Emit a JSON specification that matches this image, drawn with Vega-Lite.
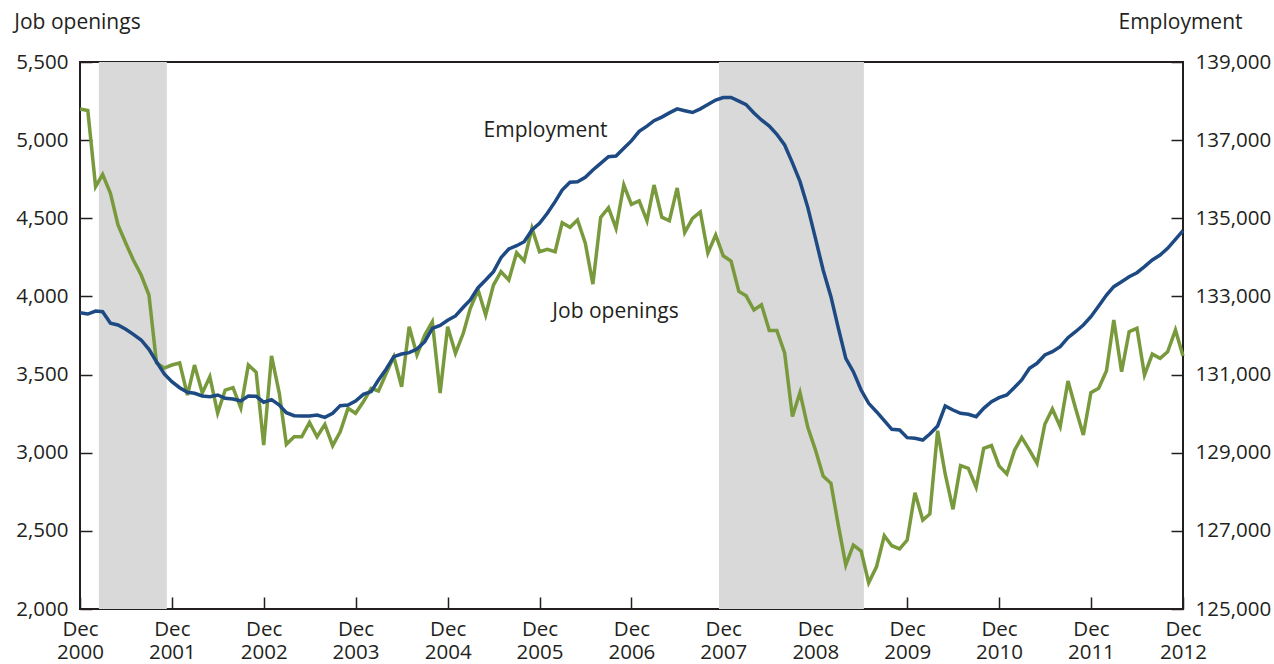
{
  "$schema": "https://vega.github.io/schema/vega-lite/v6.json",
  "width": 1103,
  "height": 547,
  "autosize": {"type": "none"},
  "padding": {"left": 80, "top": 62, "right": 91, "bottom": 55},
  "background": "white",
  "config": {
    "view": {"stroke": "#231f20", "strokeWidth": 2},
    "font": "Open Sans",
    "axis": {
      "labelFont": "Open Sans",
      "labelFontSize": 20.5,
      "labelColor": "#231f20",
      "titleFont": "Open Sans",
      "titleFontSize": 21,
      "titleFontWeight": "normal",
      "titleColor": "#231f20",
      "tickColor": "#231f20",
      "tickWidth": 1.5,
      "domain": false,
      "grid": false
    }
  },
  "datasets": {
    "series": [
      {"date":"2000-12-01","openings":5199,"employment":132584},
      {"date":"2001-01-01","openings":5190,"employment":132550},
      {"date":"2001-02-01","openings":4702,"employment":132627},
      {"date":"2001-03-01","openings":4781,"employment":132610},
      {"date":"2001-04-01","openings":4660,"employment":132312},
      {"date":"2001-05-01","openings":4457,"employment":132269},
      {"date":"2001-06-01","openings":4340,"employment":132158},
      {"date":"2001-07-01","openings":4233,"employment":132030},
      {"date":"2001-08-01","openings":4137,"employment":131885},
      {"date":"2001-09-01","openings":4009,"employment":131647},
      {"date":"2001-10-01","openings":3574,"employment":131329},
      {"date":"2001-11-01","openings":3542,"employment":131015},
      {"date":"2001-12-01","openings":3561,"employment":130818},
      {"date":"2002-01-01","openings":3574,"employment":130664},
      {"date":"2002-02-01","openings":3369,"employment":130546},
      {"date":"2002-03-01","openings":3561,"employment":130520},
      {"date":"2002-04-01","openings":3382,"employment":130451},
      {"date":"2002-05-01","openings":3486,"employment":130434},
      {"date":"2002-06-01","openings":3254,"employment":130477},
      {"date":"2002-07-01","openings":3401,"employment":130392},
      {"date":"2002-08-01","openings":3416,"employment":130375},
      {"date":"2002-09-01","openings":3286,"employment":130324},
      {"date":"2002-10-01","openings":3561,"employment":130451},
      {"date":"2002-11-01","openings":3515,"employment":130443},
      {"date":"2002-12-01","openings":3049,"employment":130293},
      {"date":"2003-01-01","openings":3620,"employment":130358},
      {"date":"2003-02-01","openings":3380,"employment":130221},
      {"date":"2003-03-01","openings":3054,"employment":130024},
      {"date":"2003-04-01","openings":3102,"employment":129947},
      {"date":"2003-05-01","openings":3102,"employment":129940},
      {"date":"2003-06-01","openings":3194,"employment":129940},
      {"date":"2003-07-01","openings":3102,"employment":129965},
      {"date":"2003-08-01","openings":3181,"employment":129906},
      {"date":"2003-09-01","openings":3045,"employment":130008},
      {"date":"2003-10-01","openings":3134,"employment":130205},
      {"date":"2003-11-01","openings":3284,"employment":130221},
      {"date":"2003-12-01","openings":3252,"employment":130324},
      {"date":"2004-01-01","openings":3326,"employment":130495},
      {"date":"2004-02-01","openings":3412,"employment":130563},
      {"date":"2004-03-01","openings":3395,"employment":130861},
      {"date":"2004-04-01","openings":3508,"employment":131143},
      {"date":"2004-05-01","openings":3614,"employment":131458},
      {"date":"2004-06-01","openings":3422,"employment":131526},
      {"date":"2004-07-01","openings":3806,"employment":131560},
      {"date":"2004-08-01","openings":3625,"employment":131655},
      {"date":"2004-09-01","openings":3753,"employment":131842},
      {"date":"2004-10-01","openings":3838,"employment":132184},
      {"date":"2004-11-01","openings":3382,"employment":132256},
      {"date":"2004-12-01","openings":3806,"employment":132390},
      {"date":"2005-01-01","openings":3636,"employment":132500},
      {"date":"2005-02-01","openings":3764,"employment":132722},
      {"date":"2005-03-01","openings":3924,"employment":132909},
      {"date":"2005-04-01","openings":4041,"employment":133224},
      {"date":"2005-05-01","openings":3881,"employment":133421},
      {"date":"2005-06-01","openings":4073,"employment":133634},
      {"date":"2005-07-01","openings":4158,"employment":133992},
      {"date":"2005-08-01","openings":4105,"employment":134214},
      {"date":"2005-09-01","openings":4280,"employment":134299},
      {"date":"2005-10-01","openings":4227,"employment":134401},
      {"date":"2005-11-01","openings":4436,"employment":134700},
      {"date":"2005-12-01","openings":4286,"employment":134872},
      {"date":"2006-01-01","openings":4301,"employment":135128},
      {"date":"2006-02-01","openings":4286,"employment":135425},
      {"date":"2006-03-01","openings":4472,"employment":135724},
      {"date":"2006-04-01","openings":4442,"employment":135921},
      {"date":"2006-05-01","openings":4489,"employment":135936},
      {"date":"2006-06-01","openings":4340,"employment":136049},
      {"date":"2006-07-01","openings":4079,"employment":136236},
      {"date":"2006-08-01","openings":4506,"employment":136407},
      {"date":"2006-09-01","openings":4568,"employment":136576},
      {"date":"2006-10-01","openings":4436,"employment":136594},
      {"date":"2006-11-01","openings":4713,"employment":136791},
      {"date":"2006-12-01","openings":4589,"employment":136980},
      {"date":"2007-01-01","openings":4611,"employment":137224},
      {"date":"2007-02-01","openings":4484,"employment":137359},
      {"date":"2007-03-01","openings":4713,"employment":137498},
      {"date":"2007-04-01","openings":4507,"employment":137590},
      {"date":"2007-05-01","openings":4484,"employment":137697},
      {"date":"2007-06-01","openings":4694,"employment":137800},
      {"date":"2007-07-01","openings":4409,"employment":137754},
      {"date":"2007-08-01","openings":4500,"employment":137708},
      {"date":"2007-09-01","openings":4541,"employment":137800},
      {"date":"2007-10-01","openings":4278,"employment":137910},
      {"date":"2007-11-01","openings":4393,"employment":138027},
      {"date":"2007-12-01","openings":4260,"employment":138091},
      {"date":"2008-01-01","openings":4226,"employment":138091},
      {"date":"2008-02-01","openings":4032,"employment":137999},
      {"date":"2008-03-01","openings":4004,"employment":137910},
      {"date":"2008-04-01","openings":3913,"employment":137697},
      {"date":"2008-05-01","openings":3947,"employment":137516},
      {"date":"2008-06-01","openings":3782,"employment":137359},
      {"date":"2008-07-01","openings":3782,"employment":137149},
      {"date":"2008-08-01","openings":3638,"employment":136876},
      {"date":"2008-09-01","openings":3232,"employment":136418},
      {"date":"2008-10-01","openings":3386,"employment":135944},
      {"date":"2008-11-01","openings":3162,"employment":135280},
      {"date":"2008-12-01","openings":3020,"employment":134500},
      {"date":"2009-01-01","openings":2851,"employment":133676},
      {"date":"2009-02-01","openings":2804,"employment":132993},
      {"date":"2009-03-01","openings":2548,"employment":132225},
      {"date":"2009-04-01","openings":2281,"employment":131416},
      {"date":"2009-05-01","openings":2409,"employment":131074},
      {"date":"2009-06-01","openings":2371,"employment":130605},
      {"date":"2009-07-01","openings":2168,"employment":130264},
      {"date":"2009-08-01","openings":2270,"employment":130050},
      {"date":"2009-09-01","openings":2469,"employment":129820},
      {"date":"2009-10-01","openings":2405,"employment":129599},
      {"date":"2009-11-01","openings":2384,"employment":129581},
      {"date":"2009-12-01","openings":2441,"employment":129385},
      {"date":"2010-01-01","openings":2744,"employment":129369},
      {"date":"2010-02-01","openings":2569,"employment":129325},
      {"date":"2010-03-01","openings":2608,"employment":129479},
      {"date":"2010-04-01","openings":3141,"employment":129684},
      {"date":"2010-05-01","openings":2864,"employment":130196},
      {"date":"2010-06-01","openings":2638,"employment":130093},
      {"date":"2010-07-01","openings":2917,"employment":130008},
      {"date":"2010-08-01","openings":2900,"employment":129983},
      {"date":"2010-09-01","openings":2779,"employment":129921},
      {"date":"2010-10-01","openings":3028,"employment":130136},
      {"date":"2010-11-01","openings":3046,"employment":130306},
      {"date":"2010-12-01","openings":2916,"employment":130409},
      {"date":"2011-01-01","openings":2864,"employment":130477},
      {"date":"2011-02-01","openings":3017,"employment":130674},
      {"date":"2011-03-01","openings":3098,"employment":130861},
      {"date":"2011-04-01","openings":3017,"employment":131160},
      {"date":"2011-05-01","openings":2932,"employment":131288},
      {"date":"2011-06-01","openings":3182,"employment":131501},
      {"date":"2011-07-01","openings":3280,"employment":131586},
      {"date":"2011-08-01","openings":3166,"employment":131714},
      {"date":"2011-09-01","openings":3459,"employment":131944},
      {"date":"2011-10-01","openings":3284,"employment":132097},
      {"date":"2011-11-01","openings":3113,"employment":132269},
      {"date":"2011-12-01","openings":3384,"employment":132481},
      {"date":"2012-01-01","openings":3412,"employment":132755},
      {"date":"2012-02-01","openings":3525,"employment":133036},
      {"date":"2012-03-01","openings":3849,"employment":133249},
      {"date":"2012-04-01","openings":3518,"employment":133377},
      {"date":"2012-05-01","openings":3774,"employment":133505},
      {"date":"2012-06-01","openings":3796,"employment":133607},
      {"date":"2012-07-01","openings":3497,"employment":133761},
      {"date":"2012-08-01","openings":3631,"employment":133932},
      {"date":"2012-09-01","openings":3604,"employment":134060},
      {"date":"2012-10-01","openings":3646,"employment":134231},
      {"date":"2012-11-01","openings":3785,"employment":134462},
      {"date":"2012-12-01","openings":3619,"employment":134682}
    ],
    "recessions": [
      {"start": "2001-02-14", "end": "2001-11-11"},
      {"start": "2007-11-14", "end": "2009-06-12"}
    ],
    "labels": [
      {"date": "2005-12-25", "value": 5058, "label": "Employment"},
      {"date": "2006-09-29", "value": 3900, "label": "Job openings"}
    ]
  },
  "encoding": {
    "x": {
      "field": "date",
      "type": "temporal",
      "scale": {
        "type": "utc",
        "domain": [
          {"year": 2000, "month": 12, "date": 1, "utc": true},
          {"year": 2012, "month": 12, "date": 1, "utc": true}
        ]
      },
      "axis": {
        "title": null,
        "values": [
          {"year": 2000, "month": 12, "date": 1, "utc": true},
          {"year": 2001, "month": 12, "date": 1, "utc": true},
          {"year": 2002, "month": 12, "date": 1, "utc": true},
          {"year": 2003, "month": 12, "date": 1, "utc": true},
          {"year": 2004, "month": 12, "date": 1, "utc": true},
          {"year": 2005, "month": 12, "date": 1, "utc": true},
          {"year": 2006, "month": 12, "date": 1, "utc": true},
          {"year": 2007, "month": 12, "date": 1, "utc": true},
          {"year": 2008, "month": 12, "date": 1, "utc": true},
          {"year": 2009, "month": 12, "date": 1, "utc": true},
          {"year": 2010, "month": 12, "date": 1, "utc": true},
          {"year": 2011, "month": 12, "date": 1, "utc": true},
          {"year": 2012, "month": 12, "date": 1, "utc": true}
        ],
        "labelExpr": "['Dec', utcFormat(datum.value, '%Y')]",
        "labelLineHeight": 23,
        "labelPadding": 22,
        "labelBaseline": "top",
        "tickSize": -12,
        "labelFlush": false,
        "labelOverlap": false
      }
    }
  },
  "layer": [
    {
      "layer": [
        {
          "data": {"name": "recessions"},
          "mark": {"type": "rect", "color": "#d9d9d9"},
          "encoding": {
            "x": {"field": "start", "type": "temporal"},
            "x2": {"field": "end"}
          }
        },
        {
          "data": {"name": "series"},
          "mark": {"type": "line", "color": "#789a3c", "strokeWidth": 3.5},
          "encoding": {
            "y": {
              "field": "openings",
              "type": "quantitative",
              "scale": {"domain": [2000, 5500], "nice": false, "zero": false},
              "axis": {
                "orient": "left",
                "values": [2000, 2500, 3000, 3500, 4000, 4500, 5000, 5500],
                "format": ",.0f",
                "tickSize": -12,
                "labelPadding": 24,
                "title": "Job openings",
                "titleAngle": 0,
                "titleAlign": "center",
                "titleBaseline": "alphabetic",
                "titleX": -3,
                "titleY": -34
              }
            }
          }
        },
        {
          "data": {"name": "labels"},
          "mark": {"type": "text", "fontSize": 21, "color": "#231f20", "align": "center", "baseline": "middle", "font": "Open Sans"},
          "encoding": {
            "y": {"field": "value", "type": "quantitative"},
            "text": {"field": "label"}
          }
        }
      ]
    },
    {
      "data": {"name": "series"},
      "mark": {"type": "line", "color": "#1e4a84", "strokeWidth": 3.5},
      "encoding": {
        "y": {
          "field": "employment",
          "type": "quantitative",
          "scale": {"domain": [125000, 139000], "nice": false, "zero": false},
          "axis": {
            "orient": "right",
            "values": [125000, 127000, 129000, 131000, 133000, 135000, 137000, 139000],
            "format": ",.0f",
            "tickSize": -12,
            "labelPadding": 24,
            "title": "Employment",
            "titleAngle": 0,
            "titleAlign": "center",
            "titleBaseline": "alphabetic",
            "titleX": -3,
            "titleY": -34
          }
        }
      }
    }
  ],
  "resolve": {"scale": {"y": "independent"}}
}
